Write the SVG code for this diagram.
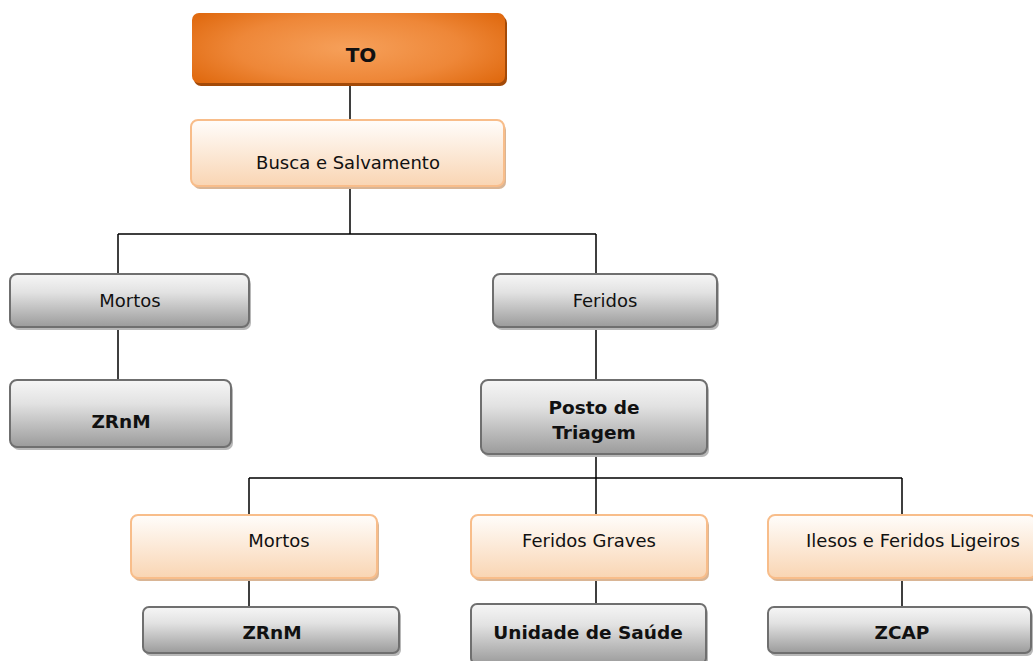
<svg xmlns="http://www.w3.org/2000/svg" width="1033" height="661" viewBox="0 0 1033 661">
<defs>
<linearGradient id="gray" x1="0" y1="0" x2="0" y2="1"><stop offset="0" stop-color="#f6f6f6"/><stop offset="0.35" stop-color="#e2e2e2"/><stop offset="1" stop-color="#9b9b9b"/></linearGradient>
<linearGradient id="peach" x1="0" y1="0" x2="0" y2="1"><stop offset="0" stop-color="#fffdfb"/><stop offset="1" stop-color="#f9d5b3"/></linearGradient>
<radialGradient id="orange" cx="0.5" cy="0.5" r="0.6" fx="0.5" fy="0.5" gradientTransform="translate(0.5 0.5) scale(1 1.3) translate(-0.5 -0.5)"><stop offset="0" stop-color="#f6a05a"/><stop offset="0.6" stop-color="#ee8738"/><stop offset="1" stop-color="#e06a10"/></radialGradient>
</defs>
<style>
.g{fill:url(#gray);stroke:#6f6f6f;stroke-width:2}
.p{fill:url(#peach);stroke:#f8bd8a;stroke-width:2}
.gs{fill:#b8b8b8}
.ps{fill:#d9b595}
.t{font-family:"DejaVu Sans",Verdana,sans-serif;font-size:18px;fill:#111;text-anchor:middle}
.b{font-weight:bold;font-size:18.5px}
.c{stroke:#000;stroke-width:1.5;fill:none}
</style>
<rect width="1033" height="661" fill="#fff"/>
<g id="connectors">
<path class="c" d="M350 82V120M350 187V234M118 234H596M118 234V274M596 234V274M118 328V380M596 328V380M596 455V478M249 478H902M249 478V515M596 478V515M902 478V515M249 579V607M596 579V604M902 579V607"/>
</g>
<g id="n-to">
<rect x="194" y="16" width="313" height="70" rx="7" fill="#a34a08"/>
<rect x="192" y="13" width="313" height="70" rx="7" fill="url(#orange)"/>
<text class="t b" x="361" y="62" style="font-size:20px">TO</text>
</g>
<g id="n-busca">
<rect x="193" y="123" width="313" height="66" rx="7" class="ps"/>
<rect x="191" y="120" width="313" height="66" rx="7" class="p"/>
<text class="t" x="348" y="168.5">Busca e Salvamento</text>
</g>
<g id="n-mortos1">
<rect x="12" y="277" width="239" height="53" rx="7" class="gs"/>
<rect x="10" y="274" width="239" height="53" rx="7" class="g"/>
<text class="t" x="130" y="307">Mortos</text>
</g>
<g id="n-feridos">
<rect x="495" y="277" width="224" height="53" rx="7" class="gs"/>
<rect x="493" y="274" width="224" height="53" rx="7" class="g"/>
<text class="t" x="605" y="307">Feridos</text>
</g>
<g id="n-zrnm1">
<rect x="12" y="383" width="221" height="67" rx="7" class="gs"/>
<rect x="10" y="380" width="221" height="67" rx="7" class="g"/>
<text class="t b" x="121" y="427.5">ZRnM</text>
</g>
<g id="n-posto">
<rect x="483" y="383" width="226" height="74" rx="7" class="gs"/>
<rect x="481" y="380" width="226" height="74" rx="7" class="g"/>
<text class="t b" x="594" y="413.5">Posto de</text>
<text class="t b" x="594" y="438.5">Triagem</text>
</g>
<g id="n-mortos2">
<rect x="133" y="518" width="246" height="63" rx="7" class="ps"/>
<rect x="131" y="515" width="246" height="63" rx="7" class="p"/>
<text class="t" x="279" y="547">Mortos</text>
</g>
<g id="n-graves">
<rect x="473" y="518" width="236" height="63" rx="7" class="ps"/>
<rect x="471" y="515" width="236" height="63" rx="7" class="p"/>
<text class="t" x="589" y="547">Feridos Graves</text>
</g>
<g id="n-ilesos">
<rect x="770" y="518" width="268" height="63" rx="7" class="ps"/>
<rect x="768" y="515" width="268" height="63" rx="7" class="p"/>
<text class="t" x="913" y="547">Ilesos e Feridos Ligeiros</text>
</g>
<g id="n-zrnm2">
<rect x="145" y="610" width="256" height="46" rx="6" class="gs"/>
<rect x="143" y="607" width="256" height="46" rx="6" class="g"/>
<text class="t b" x="272" y="638.5">ZRnM</text>
</g>
<g id="n-unidade">
<rect x="473" y="607" width="235" height="60" rx="6" class="gs"/>
<rect x="471" y="604" width="235" height="60" rx="6" class="g"/>
<text class="t b" x="588" y="638.5">Unidade de Saúde</text>
</g>
<g id="n-zcap">
<rect x="770" y="610" width="263" height="46" rx="6" class="gs"/>
<rect x="768" y="607" width="263" height="46" rx="6" class="g"/>
<text class="t b" x="902" y="638.5">ZCAP</text>
</g>
</svg>
